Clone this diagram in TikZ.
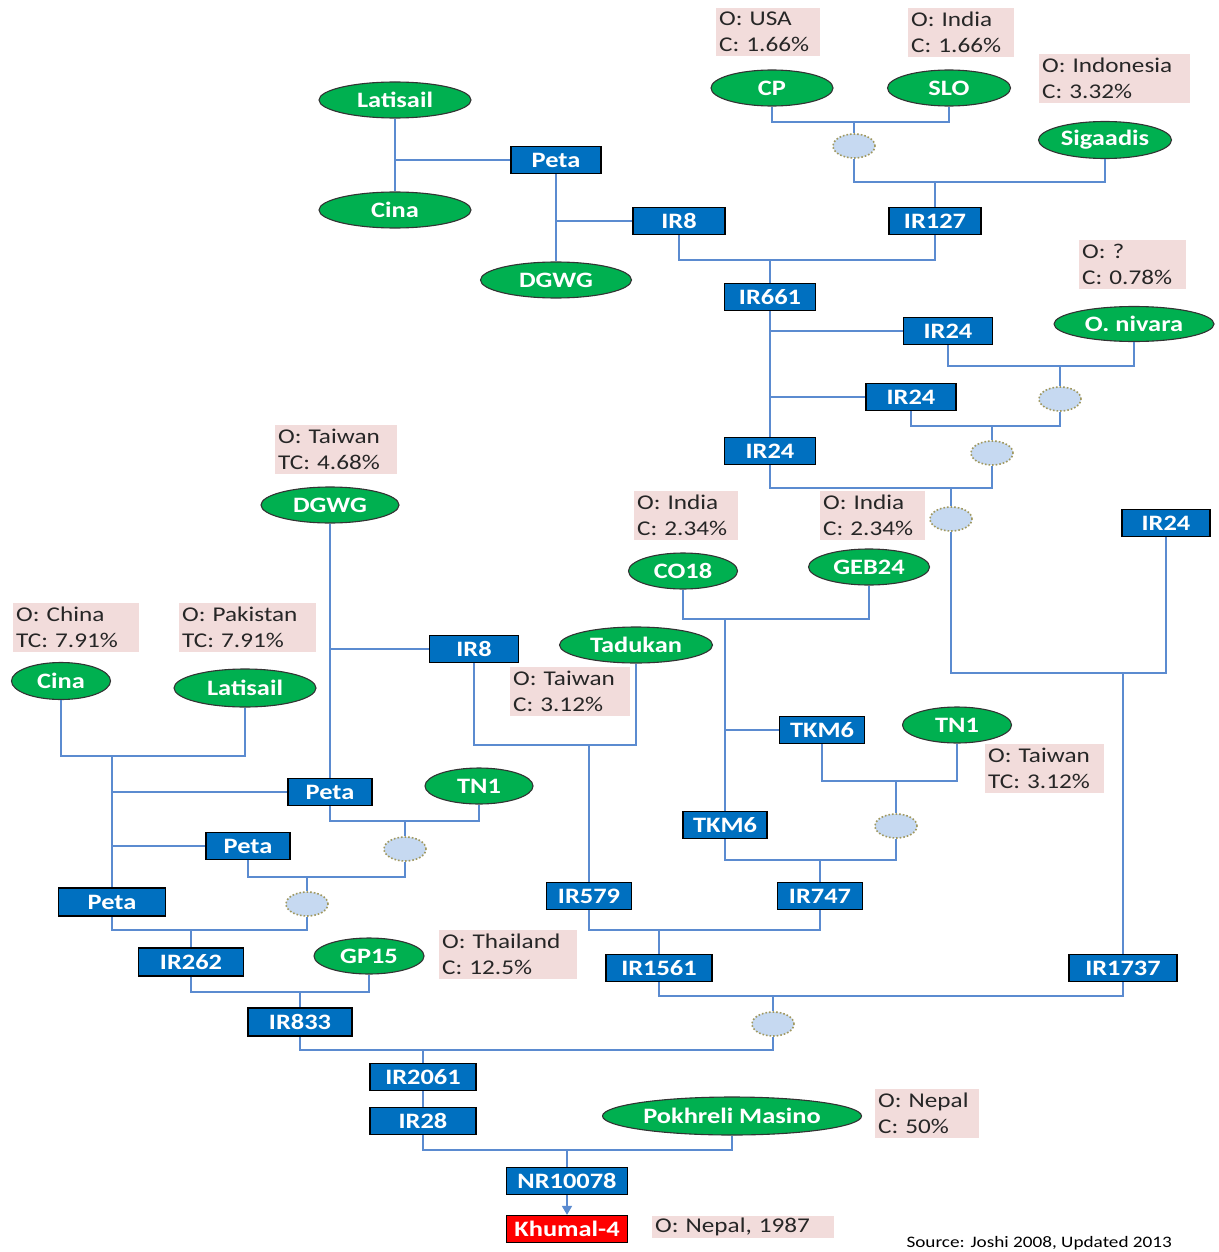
\documentclass[tikz,border=0pt]{standalone}
\usepackage{fontspec}
\setmainfont{Carlito}[FakeStretch=1.2]
\usetikzlibrary{shapes.geometric,arrows.meta}
\definecolor{boxblue}{HTML}{0070C0}
\definecolor{ovalgreen}{HTML}{00B050}
\definecolor{notepink}{HTML}{F2DCDB}
\definecolor{linkblue}{HTML}{5B8BD0}
\definecolor{crossfill}{HTML}{C6D9F1}
\definecolor{crossedge}{HTML}{A09860}
\tikzset{
  rbox/.style={draw=black, line width=1.3pt, fill=boxblue, text=white,
    font=\fontsize{22}{24}\selectfont\bfseries, minimum height=27, inner sep=0pt},
  oval/.style={ellipse, draw=black!80, line width=1.1pt, fill=ovalgreen, text=white,
    font=\fontsize{22}{24}\selectfont\bfseries, minimum height=36, inner sep=0pt},
  note/.style={fill=notepink, anchor=north west, align=left, inner xsep=3pt, inner ysep=4pt,
    text=black!85, font=\fontsize{21}{26}\selectfont},
  cross/.style={ellipse, draw=crossedge, line width=1.6pt, dotted, fill=crossfill,
    minimum width=42, minimum height=24, inner sep=0pt},
  link/.style={draw=linkblue, line width=1.7pt}
}
\begin{document}
\begin{tikzpicture}[x=1pt,y=-1pt]
\useasboundingbox (0,0) rectangle (1218,1252);

% ---- crosses and lines of the upper pedigree ----
\node[oval, minimum width=152] (lat1) at (395,100) {Latisail};
\node[oval, minimum width=152] (cina1) at (395,210) {Cina};
\node[rbox, minimum width=90] (peta1) at (556,160) {Peta};
\node[oval, minimum width=151] (dgwg1) at (556,280) {DGWG};
\node[rbox, minimum width=92] (ir8a) at (679,221) {IR8};
\node[oval, minimum width=122] (cp) at (772,88) {CP};
\node[oval, minimum width=123] (slo) at (949,88) {SLO};
\node[oval, minimum width=133, minimum height=37] (sig) at (1105,140) {Sigaadis};
\node[rbox, minimum width=92] (ir127) at (935,221) {IR127};
\node[rbox, minimum width=91] (ir661) at (770,297) {IR661};
\node[rbox, minimum width=89] (ir24a) at (948,331) {IR24};
\node[oval, minimum width=160, minimum height=35] (niv) at (1134,324) {O. nivara};
\node[rbox, minimum width=90] (ir24b) at (911,397) {IR24};
\node[rbox, minimum width=91] (ir24c) at (770,451) {IR24};
\node[rbox, minimum width=88] (ir24d) at (1166,523) {IR24};

\node[cross] (cr1) at (854,146) {};
\node[cross] (cr2) at (1060,399) {};
\node[cross] (cr3) at (992,453) {};
\node[cross] (cr4) at (951,519) {};

% ---- middle and lower pedigree ----
\node[oval, minimum width=138] (dgwg2) at (330,505) {DGWG};
\node[rbox, minimum width=89] (ir8b) at (474,649) {IR8};
\node[oval, minimum width=153] (tad) at (636,645) {Tadukan};
\node[oval, minimum width=109] (co18) at (683,571) {CO18};
\node[oval, minimum width=121] (geb) at (869,567) {GEB24};
\node[rbox, minimum width=85] (tkma) at (822,730) {TKM6};
\node[oval, minimum width=109] (tn1a) at (957,725) {TN1};
\node[rbox, minimum width=84] (tkmb) at (725,825) {TKM6};
\node[oval, minimum width=99, minimum height=37] (cina2) at (61,681) {Cina};
\node[oval, minimum width=142, minimum height=38] (lat2) at (245,688) {Latisail};
\node[rbox, minimum width=84] (petaa) at (330,792) {Peta};
\node[oval, minimum width=108] (tn1b) at (479,786) {TN1};
\node[rbox, minimum width=84] (petab) at (248,846) {Peta};
\node[rbox, minimum width=107, minimum height=28] (petac) at (112,902) {Peta};
\node[rbox, minimum width=85] (ir579) at (589,896) {IR579};
\node[rbox, minimum width=85] (ir747) at (820,896) {IR747};
\node[rbox, minimum width=105, minimum height=28] (ir262) at (191,962) {IR262};
\node[oval, minimum width=110] (gp15) at (369,956) {GP15};
\node[rbox, minimum width=106] (ir1561) at (659,968) {IR1561};
\node[rbox, minimum width=108] (ir1737) at (1123,968) {IR1737};
\node[rbox, minimum width=104, minimum height=28] (ir833) at (300,1022) {IR833};
\node[rbox, minimum width=106] (ir2061) at (423,1077) {IR2061};
\node[rbox, minimum width=106] (ir28) at (423,1121) {IR28};
\node[oval, minimum width=259, minimum height=38] (pok) at (732,1116) {Pokhreli Masino};
\node[rbox, minimum width=121] (nr) at (567,1181) {NR10078};
\node[rbox, minimum width=121, fill=red] (kh) at (567,1229) {Khumal-4};

\node[cross] (cr5) at (896,826) {};
\node[cross] (cr6) at (405,849) {};
\node[cross] (cr7) at (307,904) {};
\node[cross] (cr8) at (773,1024) {};

% ---- origin / contribution notes ----
\node[note, text width=98] (nCP) at (716,8) {O: USA\\C: 1.66\%};
\node[note, text width=100] (nSLO) at (908,8) {O: India\\C: 1.66\%};
\node[note, text width=145] (nSig) at (1039,54) {O: Indonesia\\C: 3.32\%};
\node[note, text width=101] (nNiv) at (1079,240) {O: ?\\C: 0.78\%};
\node[note, text width=116] (nDG) at (275,425) {O: Taiwan\\TC: 4.68\%};
\node[note, text width=98] (nCO) at (634,491) {O: India\\C: 2.34\%};
\node[note, text width=99] (nGEB) at (820,491) {O: India\\C: 2.34\%};
\node[note, text width=120] (nCina) at (13,603) {O: China\\TC: 7.91\%};
\node[note, text width=131] (nLat) at (179,603) {O: Pakistan\\TC: 7.91\%};
\node[note, text width=114] (nTad) at (510,667) {O: Taiwan\\C: 3.12\%};
\node[note, text width=113] (nTN) at (985,744) {O: Taiwan\\TC: 3.12\%};
\node[note, text width=132] (nGP) at (439,930) {O: Thailand\\C: 12.5\%};
\node[note, text width=98] (nPok) at (875,1089) {O: Nepal\\C: 50\%};
\node[note, text width=176, inner ysep=2pt] (nKh) at (652,1216) {O: Nepal, 1987};
\node[anchor=base west, font=\fontsize{16}{18}\selectfont, text=black] (src) at (903,1247) {Source: Joshi 2008, Updated 2013};

% ---- connectors ----
\draw[link] (lat1.south) -- (cina1.north);
\draw[link] (lat1.south |- peta1.west) -- (peta1.west);
\draw[link] (peta1.south) -- (dgwg1.north);
\draw[link] (peta1.south |- ir8a.west) -- (ir8a.west);

\coordinate (j1) at (854,122);
\draw[link] (cp.south) |- (j1) -| (slo.south);
\draw[link] (j1) -- (cr1.north);
\coordinate (j2) at (935,182);
\draw[link] (cr1.south) |- (j2) -| (sig.south);
\draw[link] (j2) -- (ir127.north);
\coordinate (j3) at (770,260);
\draw[link] (ir8a.south) |- (j3) -| (ir127.south);
\draw[link] (j3) -- (ir661.north);

\draw[link] (ir661.south) -- (ir24c.north);
\draw[link] (ir661.south |- ir24a.west) -- (ir24a.west);
\draw[link] (ir661.south |- ir24b.west) -- (ir24b.west);
\coordinate (j4) at (1060,366);
\draw[link] (ir24a.south) |- (j4) -| (niv.south);
\draw[link] (j4) -- (cr2.north);
\coordinate (j5) at (992,426);
\draw[link] (cr2.south) |- (j5) -| (ir24b.south);
\draw[link] (j5) -- (cr3.north);
\coordinate (j6) at (951,488);
\draw[link] (cr3.south) |- (j6) -| (ir24c.south);
\draw[link] (j6) -- (cr4.north);
\coordinate (j7) at (1123,673);
\draw[link] (cr4.south) |- (j7) -| (ir24d.south);
\draw[link] (j7) -- (ir1737.north);

\draw[link] (dgwg2.south) -- (petaa.north);
\draw[link] (dgwg2.south |- ir8b.west) -- (ir8b.west);
\coordinate (j8) at (589,745);
\draw[link] (ir8b.south) |- (j8) -| (tad.south);
\draw[link] (j8) -- (ir579.north);

\coordinate (j9) at (725,619);
\draw[link] (co18.south) |- (j9) -| (geb.south);
\draw[link] (j9) -- (tkmb.north);
\draw[link] (j9 |- tkma.west) -- (tkma.west);
\coordinate (j10) at (896,781);
\draw[link] (tkma.south) |- (j10) -| (tn1a.south);
\draw[link] (j10) -- (cr5.north);
\coordinate (j11) at (820,860);
\draw[link] (cr5.south) |- (j11) -| (tkmb.south);
\draw[link] (j11) -- (ir747.north);

\coordinate (j12) at (112,756);
\draw[link] (cina2.south) |- (j12) -| (lat2.south);
\draw[link] (j12) -- (petac.north);
\draw[link] (j12 |- petaa.west) -- (petaa.west);
\draw[link] (j12 |- petab.west) -- (petab.west);
\coordinate (j13) at (405,821);
\draw[link] (petaa.south) |- (j13) -| (tn1b.south);
\draw[link] (j13) -- (cr6.north);
\coordinate (j14) at (307,877);
\draw[link] (cr6.south) |- (j14) -| (petab.south);
\draw[link] (j14) -- (cr7.north);
\coordinate (j15) at (191,930);
\draw[link] (cr7.south) |- (j15) -| (petac.south);
\draw[link] (j15) -- (ir262.north);
\coordinate (j16) at (300,992);
\draw[link] (ir262.south) |- (j16) -| (gp15.south);
\draw[link] (j16) -- (ir833.north);

\coordinate (j17) at (659,930);
\draw[link] (ir579.south) |- (j17) -| (ir747.south);
\draw[link] (j17) -- (ir1561.north);
\coordinate (j18) at (773,996);
\draw[link] (ir1561.south) |- (j18) -| (ir1737.south);
\draw[link] (j18) -- (cr8.north);
\coordinate (j19) at (423,1050);
\draw[link] (cr8.south) |- (j19) -| (ir833.south);
\draw[link] (j19) -- (ir2061.north);
\draw[link] (ir2061.south) -- (ir28.north);
\coordinate (j20) at (567,1150);
\draw[link] (ir28.south) |- (j20) -| (pok.south);
\draw[link] (j20) -- (nr.north);
\draw[link, -{Triangle[length=9pt,width=10pt]}] (nr.south) -- (kh.north);
\end{tikzpicture}
\end{document}
